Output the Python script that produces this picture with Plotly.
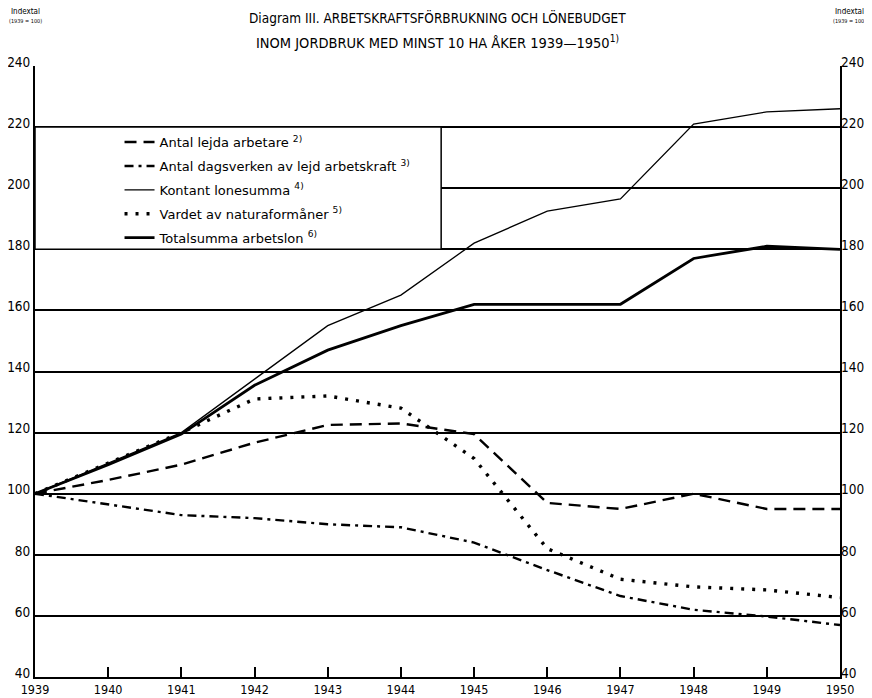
import plotly.graph_objects as go

years = list(range(1939, 1951))
lejda_arbetare = [100, 104.5, 109.5, 116.7, 122.5, 123, 119.5, 97, 95, 100, 95, 95]
dagsverken = [100, 96.5, 93, 92, 90, 89, 84, 75, 66.5, 62, 59.8, 57]
kontant_lonesumma = [100, 110, 120, 137.5, 155, 165, 182, 192.5, 196.5, 221, 225, 226]
naturaformaner = [100, 110, 120, 131, 132, 128, 111.5, 82, 72, 69.5, 68.5, 66]
totalsumma = [100, 109.5, 119.5, 135.5, 147, 155, 162, 162, 162, 177, 181, 180]

names = [
    "Antal lejda arbetare <sup>2)</sup>",
    "Antal dagsverken av lejd arbetskraft <sup>3)</sup>",
    "Kontant lonesumma <sup>4)</sup>",
    "Vardet av naturaformåner <sup>5)</sup>",
    "Totalsumma arbetslon <sup>6)</sup>",
]
y_ticks = list(range(40, 241, 20))
x_ticks = years

series = [lejda_arbetare, dagsverken, kontant_lonesumma, naturaformaner, totalsumma]
styles = [
    dict(width=2.4, dash="12px,7px"),
    dict(width=2.4, dash="9px,5px,3px,5px"),
    dict(width=1.3, dash="solid"),
    dict(width=3.4, dash="3px,8px"),
    dict(width=2.8, dash="solid"),
]

fig = go.Figure()
for i, (nm, vals, st) in enumerate(zip(names, series, styles)):
    fig.add_trace(go.Scatter(
        x=years, y=vals, mode="lines", name=nm,
        line=dict(color="black", **st), legendgroup=f"g{i}",
    ))

FONT = "Liberation Sans Narrow, DejaVu Sans Condensed, Roboto, sans-serif"

# the page adds an 8px body margin, so the figure is 8px smaller than the window
W, H = 864, 690
fig.update_layout(
    width=W, height=H,
    margin=dict(l=27, r=32, t=58, b=21, autoexpand=False),
    paper_bgcolor="white", plot_bgcolor="white",
    showlegend=True,
    legend=dict(
        x=0.105, y=0.9, xanchor="left", yanchor="top",
        bgcolor="rgba(0,0,0,0)", borderwidth=0,
        font=dict(family="DejaVu Sans, sans-serif", size=13, color="black"),
        tracegroupgap=4, traceorder="grouped",
    ),
    xaxis=dict(
        range=[1939, 1950], tickvals=x_ticks, ticktext=[str(t) for t in x_ticks],
        showgrid=False, zeroline=False, automargin=False,
        showline=True, linecolor="black", linewidth=2, mirror=False,
        ticks="inside", ticklen=10, tickwidth=1.5, tickcolor="black",
        tickfont=dict(family=FONT, size=12.5, color="black"),
    ),
    yaxis=dict(
        range=[40, 240], tickvals=y_ticks, automargin=False,
        showgrid=True, gridcolor="black", gridwidth=1.5, zeroline=False,
        showline=True, linecolor="black", linewidth=2, mirror=True,
        ticks="", ticklabelshift=-4, tickfont=dict(family=FONT, size=13.5, color="black"),
    ),
    yaxis2=dict(
        range=[40, 240], tickvals=y_ticks, overlaying="y", side="right", automargin=False,
        showgrid=False, zeroline=False, showline=False, ticks="", ticklabelshift=-4,
        tickfont=dict(family=FONT, size=13.5, color="black"),
    ),
    shapes=[
        dict(type="rect", xref="x", yref="y", x0=1939, x1=1944.55, y0=180, y1=220,
             fillcolor="white", line=dict(color="black", width=1.5), layer="between"),
    ],
    annotations=[
        dict(text="Diagram III. ARBETSKRAFTSFÖRBRUKNING OCH LÖNEBUDGET",
             xref="paper", yref="paper", x=0.5, y=1.0786, xanchor="center", yanchor="middle",
             showarrow=False, font=dict(family=FONT, size=13.5, color="black")),
        dict(text="INOM JORDBRUK MED MINST 10 HA ÅKER 1939—1950<sup>1)</sup>",
             xref="paper", yref="paper", x=0.5, y=1.0393, xanchor="center", yanchor="middle",
             showarrow=False, font=dict(family=FONT, size=14.5, color="black")),
        dict(text="Indextal", xref="paper", yref="paper", x=-0.0124, y=1.0884,
             xanchor="center", yanchor="middle", showarrow=False,
             font=dict(family=FONT, size=8, color="black")),
        dict(text="(1939 = 100)", xref="paper", yref="paper", x=-0.0124, y=1.073,
             xanchor="center", yanchor="middle", showarrow=False,
             font=dict(family=FONT, size=5.5, color="black")),
        dict(text="Indextal", xref="paper", yref="paper", x=1.0112, y=1.0884,
             xanchor="center", yanchor="middle", showarrow=False,
             font=dict(family=FONT, size=8, color="black")),
        dict(text="(1939 = 100)", xref="paper", yref="paper", x=1.0112, y=1.073,
             xanchor="center", yanchor="middle", showarrow=False,
             font=dict(family=FONT, size=5.5, color="black")),
    ],
)
# an invisible companion trace so the right-hand axis is drawn
fig.add_trace(go.Scatter(x=[years[0]], y=[y_ticks[0]], yaxis="y2", mode="markers",
                         marker=dict(opacity=0), showlegend=False, hoverinfo="skip"))

fig.write_html("out.html")
